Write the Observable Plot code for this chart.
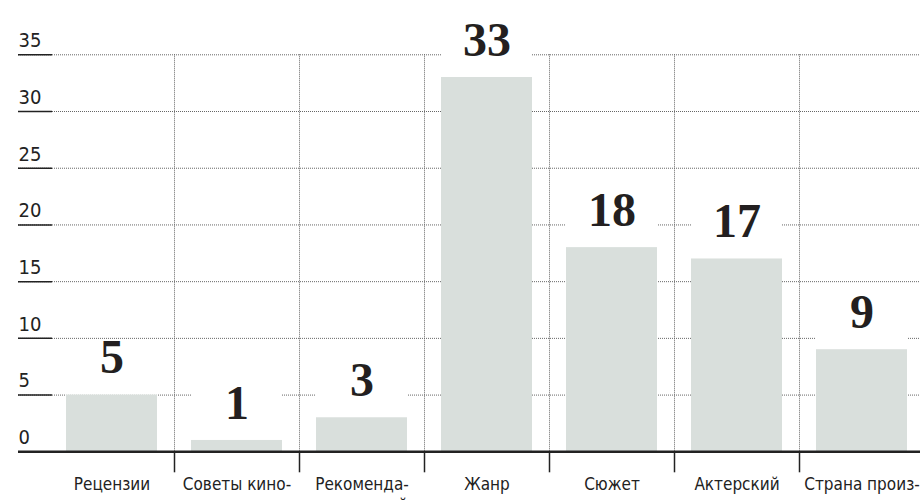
<!DOCTYPE html>
<html><head><meta charset="utf-8">
<script src="https://cdn.jsdelivr.net/npm/d3@7"></script>
<script src="https://cdn.jsdelivr.net/npm/@observablehq/plot@0.6"></script>
<style>body{margin:0;background:#fff} svg{display:block}</style>
</head><body><div id="chart"></div>
<script>
const categories = ["Рецензии\nв интернете","Советы кино-\nкритиков","Рекоменда-\nции друзей","Жанр","Сюжет","Актерский\nсостав","Страна произ-\nводства"];
const values = [5, 1, 3, 33, 18, 17, 9];
const yTicks = [0, 5, 10, 15, 20, 25, 30, 35];

const data = categories.map((c, i) => ({category: c, value: values[i]}));
const narrow = "'Liberation Sans Narrow','DejaVu Sans Condensed','Roboto Condensed',Roboto,sans-serif";
const xRange = [49, 924];
const half = (xRange[1] - xRange[0]) / categories.length / 2;

const chart = Plot.plot({
  width: 920, height: 500,
  marginLeft: 18, marginRight: 0, marginTop: 0, marginBottom: 0,
  style: {background: "#fff", overflow: "hidden"},
  x: {type: "band", domain: categories, range: xRange, paddingInner: 0.272, paddingOuter: 0.136, axis: null},
  y: {domain: [0, 35], range: [451.3, 54.3], axis: null},
  marks: [
    Plot.ruleY(yTicks.slice(1), {stroke: "#666", strokeWidth: 1, strokeDasharray: "1,1"}),
    Plot.ruleX(categories.slice(1), {x: d => d, y1: 0, y2: 35, dx: -half, stroke: "#666", strokeWidth: 1, strokeDasharray: "1,1"}),
    Plot.ruleY(yTicks.slice(1), {stroke: "#222", strokeWidth: 1.5, insetRight: 868}),
    Plot.barY(data, {x: "category", y1: "value", y2: d => d.value + 4.4, fill: "#fff"}),
    Plot.barY(data, {x: "category", y: "value", fill: "#d9dfdc"}),
    Plot.ruleY([0], {stroke: "#222", strokeWidth: 2.5}),
    Plot.ruleX(categories.slice(1), {x: d => d, y1: 0, y2: 0, dx: -half, insetBottom: -21, stroke: "#222", strokeWidth: 1.5}),
    Plot.text(yTicks, {y: d => d, frameAnchor: "left", textAnchor: "start", dy: -14, fontSize: 20, fontFamily: narrow, fill: "#222", text: d => String(d)}),
    Plot.text(data, {x: "category", y: "value", text: d => String(d.value), dy: -37, fontSize: 48, fontWeight: "bold", fontFamily: "'Liberation Serif',serif", fill: "#231f20"}),
    Plot.text(data, {x: "category", y: () => 0, text: "category", lineAnchor: "top", dy: 24, lineHeight: 1.2, fontSize: 17, fontFamily: narrow, fill: "#222"})
  ]
});
document.getElementById("chart").append(chart);
</script>
</body></html>
